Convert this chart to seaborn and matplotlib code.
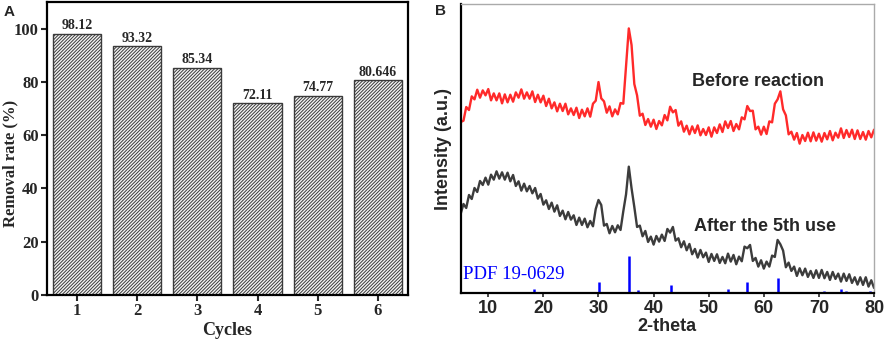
import numpy as np
import pandas as pd
import matplotlib
matplotlib.use("Agg")
import matplotlib.pyplot as plt
import seaborn as sns

# --- data ---
cycles = ["1", "2", "3", "4", "5", "6"]
removal_rate = [98.12, 93.32, 85.34, 72.11, 74.77, 80.646]
removal_labels = ["98.12", "93.32", "85.34", "72.11", "74.77", "80.646"]

# XRD scan grid (2-theta, 0.5 deg step) and intensities (a.u.)
two_theta = np.arange(5.0, 80.01, 0.5)
before_reaction = [
    513, 517, 558, 549, 590, 581, 610, 586, 608, 593, 612, 578, 599, 578, 599, 569,
    596, 572, 595, 574, 602, 586, 611, 583, 602, 583, 605, 573, 595, 572, 592, 561,
    583, 554, 572, 545, 568, 546, 568, 536, 554, 534, 556, 525, 550, 530, 554, 529,
    568, 577, 633, 584, 575, 541, 560, 530, 551, 536, 570, 568, 679, 794, 744, 627,
    593, 532, 538, 504, 522, 499, 520, 492, 516, 503, 534, 518, 559, 542, 549, 502,
    515, 484, 502, 476, 500, 480, 503, 473, 492, 474, 497, 469, 497, 480, 506, 483,
    515, 495, 516, 486, 507, 491, 527, 521, 561, 546, 547, 491, 499, 475, 499, 477,
    515, 512, 568, 581, 605, 551, 533, 476, 484, 460, 480, 448, 474, 456, 481, 455,
    482, 457, 478, 454, 480, 461, 486, 458, 481, 466, 494, 465, 489, 468, 490, 462,
    488, 462, 483, 460, 486, 467, 490,
]
after_5th_use = [
    238, 267, 255, 294, 282, 315, 303, 336, 324, 346, 325, 355, 340, 365, 343, 362,
    340, 361, 335, 354, 321, 335, 307, 328, 305, 321, 299, 315, 283, 297, 265, 278,
    252, 271, 244, 263, 231, 247, 221, 243, 220, 233, 204, 226, 204, 223, 197, 216,
    200, 252, 279, 264, 202, 207, 179, 201, 182, 203, 189, 245, 296, 379, 314, 258,
    198, 202, 170, 186, 153, 169, 145, 171, 154, 175, 156, 192, 181, 198, 157, 164,
    137, 155, 128, 147, 116, 132, 106, 129, 107, 121, 93, 117, 96, 116, 90, 108,
    89, 118, 94, 114, 86, 109, 95, 139, 134, 144, 96, 105, 79, 98, 73, 94,
    79, 112, 108, 159, 146, 127, 77, 91, 66, 79, 51, 74, 53, 73, 48, 66,
    45, 68, 45, 69, 44, 63, 39, 63, 42, 58, 34, 58, 36, 56, 30, 47,
    25, 47, 24, 47, 19, 38, 15,
]
pdf_theta = [18.3, 30.1, 35.5, 37.1, 43.1, 53.5, 57.0, 62.6, 65.8, 71.0, 74.0, 75.0, 79.2]
pdf_intensity = [11, 34, 111, 10, 24, 13, 34, 46, 4, 6, 12, 6, 5]

xrd = pd.DataFrame({"2theta": two_theta, "before": before_reaction, "after": after_5th_use})

sns.set_style("ticks")
plt.rcParams["hatch.linewidth"] = 0.7

fig = plt.figure(figsize=(8.86, 3.41), dpi=100)
ax1 = fig.add_axes([0.053, 0.135, 0.4075, 0.859])
ax2 = fig.add_axes([0.520, 0.141, 0.4665, 0.847])

# --- A: removal rate bars ---
bar_df = pd.DataFrame({"cycle": cycles, "rate": removal_rate})
sns.barplot(data=bar_df, x="cycle", y="rate", order=cycles, color="white",
            edgecolor="#3a3a3a", linewidth=1.0, width=0.8, ax=ax1)
for p in ax1.patches:
    p.set_hatch("/" * 10)
    p.set_facecolor("#f4f4f4")
serif_bold = dict(family="Liberation Serif", fontweight="bold")
ax1.bar_label(ax1.containers[0], labels=removal_labels, padding=1, fontsize=10, **serif_bold)
ax1.set_xlim(-0.5, 5.5)
ax1.set_ylim(0, 110)
ax1.set_yticks([0, 20, 40, 60, 80, 100])
ax1.set_xlabel("Cycles", fontsize=13, labelpad=2, **serif_bold)
ax1.set_ylabel("Removal rate (%)", fontsize=12, **serif_bold)
ax1.yaxis.set_label_coords(-0.08, 0.45)
for s in ax1.spines.values():
    s.set_visible(True)
    s.set_linewidth(1.6)
    s.set_color("black")
ax1.tick_params(axis="both", direction="out", length=4, width=1.5, labelsize=12, pad=2)
for lab in ax1.get_xticklabels() + ax1.get_yticklabels():
    lab.set_fontfamily("Liberation Serif")
    lab.set_fontweight("bold")
fig.text(0.004, 0.965, "A", fontsize=11, fontweight="bold", family="Liberation Sans", va="center")

# --- B: XRD patterns ---
sns.lineplot(data=xrd, x="2theta", y="before", color="#ff2a2a", linewidth=1.7, ax=ax2)
sns.lineplot(data=xrd, x="2theta", y="after", color="#3c3c3c", linewidth=1.7, ax=ax2)
ax2.vlines(pdf_theta, 0, pdf_intensity, colors="#0000ff", linewidth=1.8)
ax2.set_xlim(5, 80)
ax2.set_ylim(0, 867)
ax2.set_yticks([])
ax2.set_xticks([10, 20, 30, 40, 50, 60, 70, 80])
sans_bold = dict(family="Liberation Sans", fontweight="bold")
ax2.set_xlabel("2-theta", fontsize=13, labelpad=1, **sans_bold)
ax2.set_ylabel("Intensity (a.u.)", fontsize=13, labelpad=6, **sans_bold)
for side in ["top", "right"]:
    ax2.spines[side].set_visible(True)
    ax2.spines[side].set_color("#aaaaaa")
    ax2.spines[side].set_linewidth(1.0)
for side in ["left", "bottom"]:
    ax2.spines[side].set_color("black")
    ax2.spines[side].set_linewidth(1.6)
ax2.tick_params(axis="x", direction="out", length=3, width=1.2, labelsize=13, pad=2)
for lab in ax2.get_xticklabels():
    lab.set_fontfamily("Liberation Sans")
    lab.set_fontweight("bold")
ax2.text(46.9, 635, "Before reaction", fontsize=13, ha="left", va="center", **sans_bold)
ax2.text(47.3, 200, "After the 5th use", fontsize=13, ha="left", va="center", **sans_bold)
ax2.text(5.4, 54, "PDF 19-0629", fontsize=13.5, color="#0000ff", family="Liberation Serif",
         ha="left", va="center")
fig.text(0.491, 0.968, "B", fontsize=11, fontweight="bold", family="Liberation Sans", va="center")

fig.savefig("out.png", dpi=100)
